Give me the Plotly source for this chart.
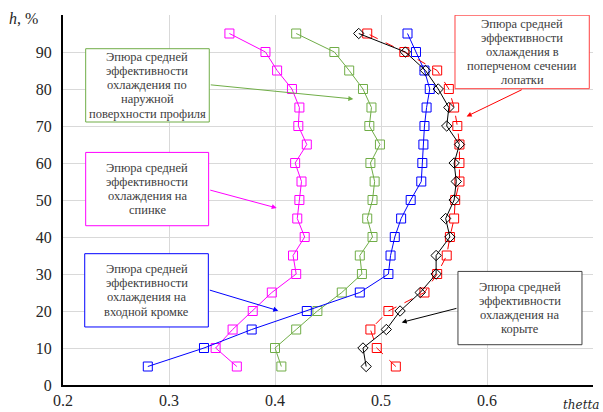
import plotly.graph_objects as go

h = [5, 10, 15, 20, 25, 30, 35, 40, 45, 50, 55, 60, 65, 70, 75, 80, 85, 90, 95]

# suction side (spinka)
suction = [0.364, 0.344, 0.360, 0.379, 0.397, 0.420, 0.417, 0.428, 0.421, 0.423,
           0.425, 0.419, 0.430, 0.422, 0.423, 0.416, 0.402, 0.391, 0.357]
# outer surface
outer = [0.406, 0.400, 0.420, 0.440, 0.463, 0.482, 0.480, 0.492, 0.487, 0.492,
         0.494, 0.490, 0.499, 0.489, 0.491, 0.483, 0.470, 0.456, 0.420]
# leading edge
leading = [0.280, 0.333, 0.378, 0.430, 0.480, 0.507, 0.509, 0.513, 0.519, 0.528,
           0.538, 0.539, 0.540, 0.541, 0.543, 0.546, 0.541, 0.533, 0.525]
# cross-section
cross = [0.514, 0.496, 0.490, 0.507, 0.541, 0.553, 0.562, 0.565, 0.569, 0.570,
         0.574, 0.574, 0.574, 0.572, 0.569, 0.564, 0.553, 0.522, 0.487]
# pressure side (koryto)
pressure = [0.486, 0.483, 0.505, 0.518, 0.537, 0.552, 0.552, 0.565, 0.561, 0.569,
            0.571, 0.569, 0.574, 0.562, 0.564, 0.554, 0.542, 0.523, 0.479]

x_ticks = [0.2, 0.3, 0.4, 0.5, 0.6, 0.7]
x_ticktext = ["0.2", "0.3", "0.4", "0.5", "0.6", ""]
y_ticks = [0, 10, 20, 30, 40, 50, 60, 70, 80, 90, 100]
y_ticktext = ["0", "10", "20", "30", "40", "50", "60", "70", "80", "90", ""]

label_outer = ["Эпюра средней", "эффективности", "охлаждения по", "наружной", "поверхности профиля"]
label_suction = ["Эпюра средней", "эффективности", "охлаждения на", "спинке"]
label_leading = ["Эпюра средней", "эффективности", "охлаждения на", "входной кромке"]
label_cross = ["Эпюра средней", "эффективности", "охлаждения в", "поперченом сечении", "лопатки"]
label_pressure = ["Эпюра средней", "эффективности", "охлаждения на", "корыте"]

GREEN = "#70AD47"
PINK = "#FF00FF"
BLUE = "#0000FF"
RED = "#FF0000"
BLACK = "#000000"

SERIF = "Liberation Serif"

fig = go.Figure()

def add(xv, color, symbol="square-open", dash="solid", size=9):
    fig.add_trace(go.Scatter(
        x=xv, y=h, mode="lines+markers",
        line=dict(color=color, width=1, dash=dash),
        marker=dict(symbol=symbol, size=size, color=color, line=dict(width=1, color=color)),
        showlegend=False, hoverinfo="skip"))

add(outer, GREEN)
add(suction, PINK)
add(leading, BLUE)
add(cross, RED, dash="dash")
add(pressure, BLACK, symbol="diamond-open", size=8)

TXT = dict(family=SERIF, size=12.5, color="#404040")
LINE_STEP = 3.82  # data units between text lines

boxes = [
    (label_outer, 0.2214, 0.3380, 71.08, 90.89, GREEN),
    (label_suction, 0.2214, 0.3374, 43.05, 62.86, PINK),
    (label_leading, 0.2205, 0.3371, 15.68, 35.49, BLUE),
    (label_cross, 0.5698, 0.6965, 80.08, 99.95, "#FF4040"),
    (label_pressure, 0.5726, 0.6896, 10.89, 30.70, "#404040"),
]
for lines, x0, x1, y0, y1, col in boxes:
    fig.add_shape(type="rect", xref="x", yref="y", x0=x0, x1=x1, y0=y0, y1=y1,
                  line=dict(color=col, width=1), fillcolor="white", layer="above")
    cx = (x0 + x1) / 2
    cy = (y0 + y1) / 2
    n = len(lines)
    for i, ln in enumerate(lines):
        yy = cy + ((n - 1) / 2 - i) * LINE_STEP
        fig.add_annotation(x=cx, y=yy, xref="x", yref="y", text=ln, showarrow=False,
                           font=TXT, xanchor="center", yanchor="middle")

arrows = [
    (0.4739, 77.3, 0.3380, 81.16, GREEN),
    (0.4016, 47.84, 0.3375, 52.78, PINK),
    (0.4031, 20.08, 0.3371, 25.76, BLUE),
    (0.5808, 72.6, 0.6342, 80.0, RED),
    (0.5195, 16.92, 0.5726, 20.81, BLACK),
]
for hx, hy, tx, ty, col in arrows:
    fig.add_annotation(x=hx, y=hy, xref="x", yref="y", ax=tx, ay=ty, axref="x", ayref="y",
                       text="", showarrow=True, arrowhead=2, arrowsize=1, arrowwidth=1,
                       arrowcolor=col, standoff=0, startstandoff=0)

fig.add_annotation(x=-0.075, y=0.99, xref="paper", yref="paper", text="<i>h</i>, %",
                   showarrow=False, font=dict(family=SERIF, size=16, color="#262626"),
                   xanchor="center", yanchor="middle")
fig.add_annotation(x=1.015, y=-0.053, xref="paper", yref="paper", text="<i>thetta</i>",
                   showarrow=False, font=dict(family="DejaVu Serif", size=12, color="#262626"),
                   xanchor="right", yanchor="middle")

fig.update_xaxes(range=[0.2, 0.7], tickvals=x_ticks, ticktext=x_ticktext,
                 showgrid=True, gridcolor="#D9D9D9", gridwidth=1,
                 showline=True, linecolor="black", linewidth=2, zeroline=False,
                 tickfont=dict(family=SERIF, size=16, color="#262626"),
                 ticks="", automargin=False)
fig.update_yaxes(range=[0, 100], tickvals=y_ticks, ticktext=y_ticktext,
                 showgrid=True, gridcolor="#D9D9D9", gridwidth=1,
                 showline=True, linecolor="black", linewidth=2, zeroline=False,
                 tickfont=dict(family=SERIF, size=16, color="#262626"),
                 ticks="", ticklabelstandoff=6, automargin=False)

fig.update_layout(template="none", width=603, height=412,
                  margin=dict(l=63, r=10, t=15, b=27, pad=0),
                  plot_bgcolor="white", paper_bgcolor="white",
                  font=dict(family=SERIF))

fig.write_html("out.html", config={"displayModeBar": False},
               post_script="document.body.style.margin='0';document.body.style.padding='0';document.body.style.overflow='hidden';")
